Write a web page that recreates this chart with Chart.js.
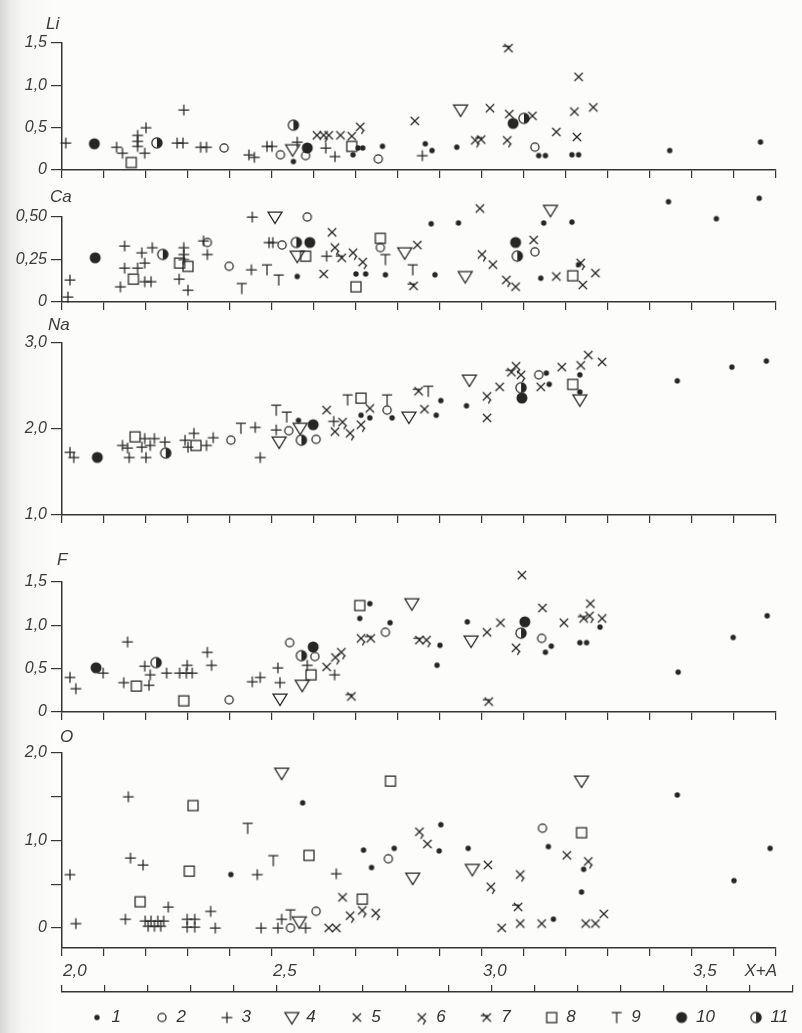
<!DOCTYPE html>
<html><head><meta charset="utf-8">
<script src="https://cdn.jsdelivr.net/npm/chart.js@4.4.1/dist/chart.umd.min.js"></script>
<style>
html,body{margin:0;padding:0;width:802px;height:1033px;overflow:hidden;}
body{position:relative;background:linear-gradient(to right,#d6d6d4 0px,#eaeae8 10px,#f7f7f5 24px,#fcfcfa 60px);}
canvas{position:absolute;left:0;top:0;}
</style></head><body>
<canvas id="p0" width="802" height="1033"></canvas>
<canvas id="p1" width="802" height="1033"></canvas>
<canvas id="p2" width="802" height="1033"></canvas>
<canvas id="p3" width="802" height="1033"></canvas>
<canvas id="p4" width="802" height="1033"></canvas>
<canvas id="axis2" width="802" height="1033"></canvas>
<canvas id="leg" width="900" height="1120"></canvas>
<script>
// ---------- axis / label arrays ----------
const X_TICKS = [2.0,2.1,2.2,2.3,2.4,2.5,2.6,2.7,2.8,2.9,3.0,3.1,3.2,3.3,3.4,3.5,3.6,3.7];
const X_TICK_LABELS = ['2,0','','','','','2,5','','','','','3,0','','','','','3,5','  X+A',''];
const SERIES_LABELS = ['1','2','3','4','5','6','7','8','9','10','11'];
const PANEL_NAMES = ['Li','Ca','Na','F','O'];
const LI_TICKS = [0,0.5,1.0,1.5];     const LI_TICK_LABELS = ['0','0,5','1,0','1,5'];
const CA_TICKS = [0,0.25,0.5];        const CA_TICK_LABELS = ['0','0,25','0,50'];
const NA_TICKS = [1.0,2.0,3.0];       const NA_TICK_LABELS = ['1,0','2,0','3,0'];
const F_TICKS  = [0,0.5,1.0,1.5];     const F_TICK_LABELS  = ['0','0,5','1,0','1,5'];
const O_TICKS  = [0,0.5,1.0,1.5,2.0]; const O_TICK_LABELS  = ['0','','1,0','','2,0'];

// ---------- Li ----------
const LI_1 = [[2.551,0.10],[2.693,0.18],[2.705,0.26],[2.716,0.26],[2.763,0.28],[2.865,0.31],[2.881,0.23],[2.94,0.27],[3.135,0.17],[3.151,0.17],[3.214,0.18],[3.23,0.18],[3.447,0.23],[3.663,0.33]];
const LI_2 = [[2.386,0.26],[2.52,0.18],[2.58,0.17],[2.753,0.13],[3.126,0.27]];
const LI_3 = [[2.009,0.32],[2.13,0.27],[2.144,0.20],[2.18,0.41],[2.18,0.34],[2.18,0.28],[2.2,0.50],[2.197,0.20],[2.274,0.32],[2.288,0.32],[2.29,0.71],[2.33,0.27],[2.344,0.27],[2.445,0.18],[2.458,0.15],[2.488,0.28],[2.5,0.28],[2.56,0.33],[2.628,0.26],[2.65,0.16],[2.858,0.17]];
const LI_4 = [[2.549,0.24],[2.949,0.71]];
const LI_5 = [[2.607,0.41],[2.635,0.41],[2.663,0.41],[2.69,0.40],[2.84,0.58],[3.019,0.73],[3.065,0.66],[3.12,0.64],[3.177,0.45],[3.23,1.10],[3.22,0.69],[3.265,0.74],[3.226,0.39]];
const LI_6 = [[2.623,0.41],[2.71,0.51],[2.984,0.35],[3.06,0.35]];
const LI_7 = [[2.998,0.36],[3.063,1.44]];
const LI_8 = [[2.165,0.09],[2.69,0.28]];
const LI_9 = [];
const LI_10 = [[2.077,0.31],[2.584,0.26],[3.074,0.55]];
const LI_11 = [[2.226,0.32],[2.551,0.53],[3.1,0.61]];

// ---------- Ca ----------
const CA_1 = [[2.56,0.15],[2.7,0.165],[2.723,0.165],[2.77,0.16],[2.879,0.46],[2.888,0.16],[2.944,0.465],[3.147,0.465],[3.14,0.14],[3.214,0.47],[3.23,0.22],[3.444,0.59],[3.558,0.49],[3.66,0.61]];
const CA_2 = [[2.346,0.35],[2.398,0.21],[2.524,0.335],[2.584,0.50],[2.758,0.32],[3.126,0.295]];
const CA_3 = [[2.019,0.13],[2.014,0.03],[2.149,0.33],[2.149,0.20],[2.139,0.09],[2.19,0.29],[2.215,0.32],[2.18,0.20],[2.197,0.23],[2.197,0.12],[2.212,0.12],[2.29,0.32],[2.29,0.28],[2.29,0.25],[2.279,0.135],[2.3,0.07],[2.337,0.36],[2.346,0.28],[2.453,0.50],[2.451,0.19],[2.493,0.35],[2.502,0.35],[2.63,0.27]];
const CA_4 = [[2.507,0.50],[2.56,0.27],[2.816,0.29],[2.96,0.15],[3.163,0.54]];
const CA_5 = [[2.643,0.41],[2.623,0.165],[2.846,0.335],[2.995,0.55],[3.026,0.22],[3.08,0.09],[3.123,0.365],[3.177,0.15],[3.24,0.10],[3.27,0.17]];
const CA_6 = [[2.65,0.32],[2.693,0.29],[2.716,0.235],[3.0,0.28],[3.058,0.13],[3.235,0.23]];
const CA_7 = [[2.666,0.26],[2.837,0.095]];
const CA_8 = [[2.17,0.135],[2.28,0.23],[2.30,0.21],[2.58,0.27],[2.7,0.09],[2.758,0.375],[3.216,0.155]];
const CA_9 = [[2.428,0.08],[2.488,0.19],[2.516,0.13],[2.77,0.25],[2.835,0.19]];
const CA_10 = [[2.079,0.26],[2.59,0.35],[3.08,0.35]];
const CA_11 = [[2.24,0.28],[2.558,0.35],[3.084,0.27]];

// ---------- Na ----------
const NA_1 = [[2.563,2.1],[2.712,2.16],[2.733,2.13],[2.786,2.13],[2.891,2.16],[2.902,2.33],[2.963,2.27],[3.153,2.65],[3.16,2.52],[3.233,2.63],[3.233,2.43],[3.465,2.56],[3.595,2.72],[3.677,2.79]];
const NA_2 = [[2.402,1.87],[2.54,1.98],[2.605,1.88],[2.774,2.22],[3.135,2.63]];
const NA_3 = [[2.019,1.73],[2.028,1.67],[2.144,1.81],[2.156,1.78],[2.16,1.67],[2.19,1.79],[2.197,1.89],[2.21,1.81],[2.22,1.89],[2.2,1.67],[2.245,1.85],[2.293,1.87],[2.314,1.95],[2.3,1.79],[2.344,1.81],[2.36,1.9],[2.46,2.02],[2.472,1.67],[2.51,1.99],[2.647,2.09]];
const NA_4 = [[2.517,1.85],[2.567,2.01],[2.826,2.14],[2.97,2.57],[3.233,2.34]];
const NA_5 = [[2.63,2.22],[2.65,1.97],[2.733,2.24],[2.863,2.23],[3.012,2.13],[3.042,2.49],[3.14,2.49],[3.19,2.72],[3.235,2.74],[3.253,2.86],[3.286,2.78]];
const NA_6 = [[2.668,2.08],[2.686,1.95],[2.712,2.05],[3.012,2.38],[3.081,2.73],[3.093,2.63]];
const NA_7 = [[2.849,2.44],[3.07,2.66]];
const NA_8 = [[2.174,1.91],[2.319,1.81],[2.712,2.36],[3.216,2.52]];
const NA_9 = [[2.426,2.01],[2.51,2.22],[2.535,2.14],[2.68,2.34],[2.774,2.34],[2.872,2.44]];
const NA_10 = [[2.084,1.67],[2.598,2.05],[3.095,2.36]];
const NA_11 = [[2.247,1.72],[2.57,1.87],[3.093,2.48]];

// ---------- F ----------
const F_1 = [[2.709,1.08],[2.733,1.25],[2.781,1.03],[2.9,0.77],[2.893,0.54],[2.965,1.04],[3.151,0.69],[3.165,0.76],[3.233,0.80],[3.249,0.80],[3.281,0.98],[3.467,0.46],[3.598,0.86],[3.679,1.11]];
const F_2 = [[2.398,0.14],[2.542,0.80],[2.602,0.64],[2.77,0.92],[3.142,0.85]];
const F_3 = [[2.019,0.40],[2.033,0.27],[2.098,0.45],[2.156,0.81],[2.147,0.34],[2.197,0.53],[2.21,0.43],[2.207,0.31],[2.249,0.45],[2.28,0.45],[2.296,0.45],[2.31,0.45],[2.298,0.54],[2.346,0.69],[2.356,0.54],[2.453,0.35],[2.472,0.40],[2.514,0.51],[2.519,0.34],[2.584,0.54],[2.649,0.43]];
const F_4 = [[2.519,0.15],[2.572,0.31],[2.833,1.25],[2.974,0.82]];
const F_5 = [[2.63,0.52],[3.012,0.92],[3.044,1.03],[3.095,1.58],[3.144,1.20],[3.195,1.03],[3.258,1.25],[3.286,1.08]];
const F_6 = [[2.651,0.63],[2.665,0.69],[2.712,0.85],[2.868,0.83],[3.081,0.74],[3.256,1.11]];
const F_7 = [[2.689,0.18],[2.735,0.85],[2.851,0.83],[3.016,0.12],[3.242,1.08]];
const F_8 = [[2.177,0.30],[2.29,0.13],[2.593,0.43],[2.709,1.23]];
const F_9 = [];
const F_10 = [[2.081,0.51],[2.598,0.75],[3.102,1.04]];
const F_11 = [[2.224,0.57],[2.57,0.65],[3.093,0.91]];

// ---------- O ----------
const O_1 = [[2.402,0.61],[2.573,1.43],[2.718,0.89],[2.737,0.69],[2.791,0.91],[2.902,1.18],[2.898,0.88],[2.967,0.91],[3.17,0.10],[3.158,0.93],[3.242,0.67],[3.237,0.41],[3.465,1.52],[3.6,0.54],[3.686,0.91]];
const O_2 = [[2.544,0.0],[2.605,0.19],[2.777,0.79],[3.144,1.14]];
const O_3 = [[2.019,0.61],[2.033,0.05],[2.158,1.50],[2.163,0.80],[2.193,0.72],[2.151,0.10],[2.198,0.08],[2.212,0.08],[2.228,0.08],[2.242,0.08],[2.205,0.02],[2.22,0.02],[2.235,0.02],[2.253,0.24],[2.298,0.10],[2.316,0.10],[2.298,0.01],[2.316,0.01],[2.354,0.19],[2.365,0.0],[2.465,0.61],[2.474,0.0],[2.514,0.0],[2.523,0.10],[2.58,0.0],[2.653,0.62]];
const O_4 = [[2.523,1.77],[2.565,0.07],[2.835,0.57],[2.977,0.67],[3.237,1.68]];
const O_5 = [[2.635,0.0],[2.653,0.0],[2.668,0.35],[2.87,0.96],[3.014,0.72],[3.047,0.0],[3.091,0.05],[3.142,0.05],[3.202,0.83],[3.247,0.05],[3.27,0.05],[3.29,0.16]];
const O_6 = [[2.686,0.14],[2.715,0.20],[2.747,0.17],[2.851,1.10],[3.021,0.47],[3.091,0.61],[3.253,0.76]];
const O_7 = [[3.086,0.24]];
const O_8 = [[2.186,0.30],[2.312,1.40],[2.303,0.65],[2.588,0.83],[2.715,0.33],[2.782,1.68],[3.237,1.09]];
const O_9 = [[2.442,1.14],[2.503,0.77],[2.544,0.15]];
const O_10 = [];
const O_11 = [];

// ---------- styling / layout ----------
const INK = '#262626';
const AX = '#353535';
const FONT = 'Liberation Sans';
Chart.defaults.font.family = FONT;
Chart.defaults.color = '#3a3a3a';

function makeSymbol(k){
  const c = document.createElement('canvas'); c.width = 20; c.height = 20;
  const g = c.getContext('2d');
  g.translate(10,10); g.strokeStyle = INK; g.fillStyle = INK; g.lineWidth = 1.25; g.lineCap = 'round';
  const X = (a)=>{ g.moveTo(-a,-a); g.lineTo(a,a); g.moveTo(a,-a); g.lineTo(-a,a); };
  g.beginPath();
  switch(k){
    case 1: g.arc(0,0,2.7,0,Math.PI*2); g.fill(); break;
    case 2: g.arc(0,0,4.1,0,Math.PI*2); g.stroke(); break;
    case 3: g.moveTo(-5,0); g.lineTo(5,0); g.moveTo(0,-5); g.lineTo(0,5); g.stroke(); break;
    case 4: g.moveTo(-7,-5); g.lineTo(7,-5); g.lineTo(0,6.5); g.closePath(); g.stroke(); break;
    case 5: X(3.8); g.stroke(); break;
    case 6: X(3.8); g.moveTo(3,4); g.lineTo(1.6,6.6); g.stroke(); break;
    case 7: X(3.8); g.moveTo(-5.5,-1.8); g.lineTo(0.5,-1.8); g.stroke(); break;
    case 8: g.rect(-5,-5,10,10); g.stroke(); break;
    case 9: g.moveTo(-4.6,-5); g.lineTo(4.6,-5); g.moveTo(0,-5); g.lineTo(0,5.2); g.stroke(); break;
    case 10: g.arc(0,0,5.5,0,Math.PI*2); g.fill(); break;
    case 11: g.arc(0,0,5.1,0,Math.PI*2); g.stroke();
             g.beginPath(); g.arc(0,0,5.1,-Math.PI/2,Math.PI/2); g.closePath(); g.fill(); break;
  }
  return c;
}
const SYMBOLS = SERIES_LABELS.map((_,i)=>makeSymbol(i+1));

const PANELS = [
  {name:PANEL_NAMES[0], series:[LI_1,LI_2,LI_3,LI_4,LI_5,LI_6,LI_7,LI_8,LI_9,LI_10,LI_11], min:0, max:1.5, ticks:LI_TICKS, labels:LI_TICK_LABELS, top:43, bottom:170, nx:46, ny:24, xh:10},
  {name:PANEL_NAMES[1], series:[CA_1,CA_2,CA_3,CA_4,CA_5,CA_6,CA_7,CA_8,CA_9,CA_10,CA_11], min:0, max:0.5, ticks:CA_TICKS, labels:CA_TICK_LABELS, top:217, bottom:302, nx:50, ny:197, xh:10},
  {name:PANEL_NAMES[2], series:[NA_1,NA_2,NA_3,NA_4,NA_5,NA_6,NA_7,NA_8,NA_9,NA_10,NA_11], min:1.0, max:3.0, ticks:NA_TICKS, labels:NA_TICK_LABELS, top:343, bottom:515, nx:48, ny:325, xh:10},
  {name:PANEL_NAMES[3], series:[F_1,F_2,F_3,F_4,F_5,F_6,F_7,F_8,F_9,F_10,F_11], min:0, max:1.5, ticks:F_TICKS, labels:F_TICK_LABELS, top:582, bottom:712, nx:57, ny:560, xh:10},
  {name:PANEL_NAMES[4], series:[O_1,O_2,O_3,O_4,O_5,O_6,O_7,O_8,O_9,O_10,O_11], min:-0.23, max:2.0, ticks:O_TICKS, labels:O_TICK_LABELS, top:753, bottom:948, nx:60, ny:737, xh:40, xlabels:true}
];

const nameLabel = {
  id:'nameLabel',
  afterDraw(chart, args, o){
    if(!o || !o.text) return;
    const c = chart.ctx; c.save();
    c.font = 'italic 17px "'+FONT+'"'; c.fillStyle = '#3a3a3a'; c.textBaseline = 'middle'; c.textAlign = 'left';
    c.fillText(o.text, o.x, o.y); c.restore();
  }
};

const tickFont = {family:FONT, size:16, style:'italic'};

PANELS.forEach((p, idx)=>{
  const datasets = p.series.map((d,i)=>({
    label: SERIES_LABELS[i],
    data: d.map(([x,y])=>({x, y})),
    pointStyle: SYMBOLS[i],
    pointRadius: 25, pointHoverRadius: 25,
    clip: false, showLine: false
  }));
  new Chart(document.getElementById('p'+idx), {
    type:'scatter',
    data:{datasets},
    plugins:[nameLabel],
    options:{
      responsive:false, animation:false, events:[],
      layout:{padding:{left:0, right:9, top:p.top, bottom:1033 - p.bottom - p.xh}},
      plugins:{legend:{display:false}, tooltip:{enabled:false}, nameLabel:{text:p.name, x:p.nx, y:p.ny}},
      scales:{
        x:{
          type:'linear', min:2.0, max:3.7,
          afterBuildTicks:s=>{ s.ticks = X_TICKS.map(v=>({value:v})); },
          afterFit:s=>{ s.height = p.xh; },
          ticks:{display:!!p.xlabels, autoSkip:false, maxRotation:0, minRotation:0, padding:5, align:'start', labelOffset:1,
                 color:'#3a3a3a', font:{family:FONT, size:17, style:'italic'}, callback:(v,i)=>X_TICK_LABELS[i]},
          grid:{drawOnChartArea:false, drawTicks:true, tickLength:8, color:AX, lineWidth:1.2},
          border:{display:true, color:AX, width:1.5}
        },
        y:{
          type:'linear', min:p.min, max:p.max,
          afterBuildTicks:s=>{ s.ticks = p.ticks.map(v=>({value:v})); },
          afterFit:s=>{ s.width = 62; },
          ticks:{autoSkip:false, padding:4, color:'#3a3a3a', font:tickFont, callback:(v,i)=>p.labels[i]},
          grid:{drawOnChartArea:false, drawTicks:true, tickLength:11, color:AX, lineWidth:1.2},
          border:{display:true, color:AX, width:1.5}
        }
      }
    }
  });
});

// lower frame line with upward ticks
new Chart(document.getElementById('axis2'), {
  type:'scatter',
  data:{datasets:[]},
  options:{
    responsive:false, animation:false, events:[],
    layout:{padding:{left:62, right:9, top:985, bottom:28}},
    plugins:{legend:{display:false}, tooltip:{enabled:false}},
    scales:{
      x:{type:'linear', position:'top', min:2.0, max:3.7,
         afterBuildTicks:s=>{ s.ticks = X_TICKS.map(v=>({value:v})); },
         afterFit:s=>{ s.height = 7; },
         ticks:{display:false},
         grid:{drawOnChartArea:false, drawTicks:true, tickLength:7, color:AX, lineWidth:1.2},
         border:{display:true, color:AX, width:1.5}},
      y:{display:false, min:0, max:1}
    }
  }
});

// legend
new Chart(document.getElementById('leg'), {
  type:'scatter',
  data:{datasets: SERIES_LABELS.map((l,i)=>({label:l, data:[], pointStyle:SYMBOLS[i], pointRadius:5}))},
  options:{
    responsive:false, animation:false, events:[],
    layout:{padding:{left:56, right:0, top:974, bottom:0}},
    scales:{x:{display:false}, y:{display:false}},
    plugins:{
      tooltip:{enabled:false},
      legend:{display:true, position:'top', align:'start',
        labels:{usePointStyle:true, pointStyleWidth:12, padding:35, color:'#333',
                font:{family:FONT, size:17, style:'italic'}}}
    }
  }
});
</script>
</body></html>
